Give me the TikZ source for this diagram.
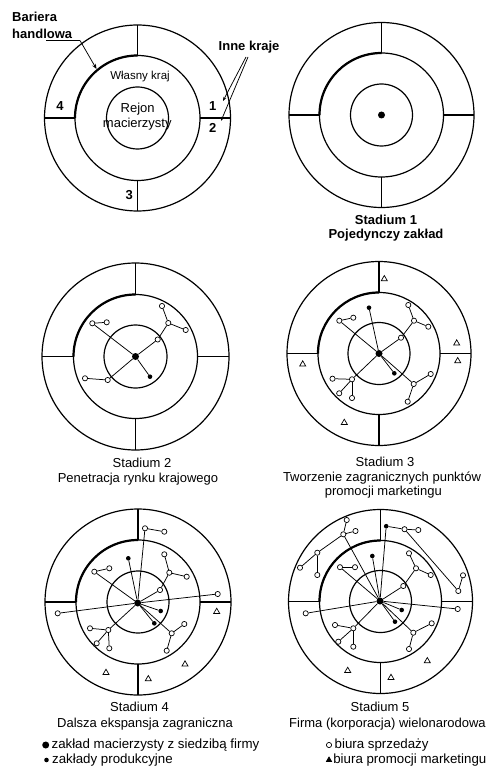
\documentclass[tikz,border=0pt]{standalone}
\usepackage{fontspec}
\setmainfont{Liberation Sans}
\usepackage{tikz}
\usetikzlibrary{arrows.meta, positioning, calc, shapes.geometric}

\tikzset{
  ring/.style={line width=1.2pt},
  barrier/.style={line width=2.2pt},
  link/.style={line width=0.75pt},
  home/.style={circle, fill, inner sep=0pt, minimum size=7pt},
  plant/.style={circle, fill, inner sep=0pt, minimum size=4.6pt},
  office/.style={circle, draw, fill=white, line width=0.7pt, inner sep=0pt, minimum size=5.2pt},
  promo/.style={regular polygon, regular polygon sides=3, draw, line width=0.7pt, inner sep=0pt, minimum size=7pt},
  capt/.style={font=\fontsize{13}{15}\selectfont, anchor=base, inner sep=1pt},
  bcapt/.style={capt, font=\fontsize{13}{15}\selectfont\bfseries},
  keytext/.style={capt, font=\fontsize{13.3}{15}\selectfont},
}

\begin{document}
\begin{tikzpicture}[x=1pt, y=-1pt]
			\useasboundingbox (0,0) rectangle (485,767);
			% centres of the six pictures
			\coordinate (o1) at (137.5,118);
			\coordinate (o2) at (381.5,115);
			\coordinate (o3) at (135.5,356.5);
			\coordinate (o4) at (379,353.5);
			\coordinate (o5) at (138,602);
			\coordinate (o6) at (380.5,601.5);
			% rings
			\draw[ring] (o1) circle (93pt) (o1) circle (62.5pt) (o1) circle (31pt);
			\draw[ring] (o1) ++(0:62.5pt) -- ++(0:30.5pt) (o1) ++(90:62.5pt) -- ++(90:30.5pt)
				(o1) ++(180:62.5pt) -- ++(180:30.5pt) (o1) ++(270:62.5pt) -- ++(270:30.5pt);
			\draw[barrier] (o1) ++(90:62.5pt) arc (90:180:62.5pt);
			\draw[ring] (o2) circle (92.5pt) (o2) circle (62pt) (o2) circle (31pt);
			\draw[ring] (o2) ++(0:62pt) -- ++(0:30.5pt) (o2) ++(90:62pt) -- ++(90:30.5pt)
				(o2) ++(180:62pt) -- ++(180:30.5pt) (o2) ++(270:62pt) -- ++(270:30.5pt);
			\draw[barrier] (o2) ++(90:62pt) arc (90:180:62pt);
			\draw[ring] (o3) circle (93.5pt) (o3) circle (62pt) (o3) circle (31.5pt);
			\draw[ring] (o3) ++(0:62pt) -- ++(0:31.5pt) (o3) ++(90:62pt) -- ++(90:31.5pt)
				(o3) ++(180:62pt) -- ++(180:31.5pt) (o3) ++(270:62pt) -- ++(270:31.5pt);
			\draw[barrier] (o3) ++(90:62pt) arc (90:180:62pt);
			\draw[ring] (o4) circle (92pt) (o4) circle (61pt) (o4) circle (31pt);
			\draw[ring] (o4) ++(0:61pt) -- ++(0:31pt) (o4) ++(90:61pt) -- ++(90:31pt)
				(o4) ++(180:61pt) -- ++(180:31pt) (o4) ++(270:61pt) -- ++(270:31pt);
			\draw[barrier] (o4) ++(90:61pt) arc (90:180:61pt);
			\draw[ring] (o5) circle (93pt) (o5) circle (62pt) (o5) circle (31pt);
			\draw[ring] (o5) ++(0:62pt) -- ++(0:31pt) (o5) ++(90:62pt) -- ++(90:31pt)
				(o5) ++(180:62pt) -- ++(180:31pt) (o5) ++(270:62pt) -- ++(270:31pt);
			\draw[barrier] (o5) ++(90:62pt) arc (90:180:62pt);
			\draw[ring] (o6) circle (92pt) (o6) circle (61pt) (o6) circle (31pt);
			\draw[ring] (o6) ++(0:61pt) -- ++(0:31pt) (o6) ++(90:61pt) -- ++(90:31pt)
				(o6) ++(180:61pt) -- ++(180:31pt) (o6) ++(270:61pt) -- ++(270:31pt);
			\draw[barrier] (o6) ++(90:61pt) arc (90:180:61pt);

			% picture 0: the key
			\node[bcapt, anchor=base west] (ba) at (11,21.7) {Bariera};
			\node[bcapt, anchor=base west] (bh) at (11,38.3) {handlowa};
			\node[bcapt, anchor=base west] (ik) at (217.5,50.7) {Inne kraje};
			\node[capt, font=\fontsize{11.5}{13}\selectfont] (wk) at (140,80) {Własny kraj};
			\node[capt] (rj) at (137.7,112.7) {Rejon};
			\node[capt] (rm) at (137.3,127.3) {macierzysty};
			\node[bcapt] (n1) at (212.7,111) {1};
			\node[bcapt] (n2) at (212.7,132.7) {2};
			\node[bcapt] (n3) at (129.3,200) {3};
			\node[bcapt] (n4) at (60,111) {4};
			\coordinate (ul) at (46,40.5);
			\coordinate (ur) at (80,40.5);
			\coordinate (bar) at (96.5,69);
			\draw[link] (ul) -- (ur);
			\draw[link, -{Stealth[length=5pt,width=4pt]}] (ur) -- (bar);
			\coordinate (ia) at (246,57);
			\coordinate (ib) at (248,57);
			\coordinate (k1) at (223,101);
			\coordinate (k2) at (221,121);
			\draw[link, -{Stealth[length=4pt,width=3pt]}] (ia) -- (k1);
			\draw[link, -{Stealth[length=4pt,width=3pt]}] (ib) -- (k2);

			% stadium 1
			\node[home] (h2) at (o2) {};
			\node[bcapt] (s1) at (386,225) {Stadium 1};
			\node[bcapt] (s1b) at (386,238.5) {Pojedynczy zakład};

			% stadium 2
			\node[home] (h3) at (o3) {};
			\node[plant] (p3a) at (150,376.7) {};
			\node[office] (b3a) at (92.3,323.3) {};
			\node[office] (b3b) at (106.7,322.3) {};
			\node[office] (b3c) at (107.7,380) {};
			\node[office] (b3d) at (85,378.3) {};
			\node[office] (b3e) at (157.7,339.5) {};
			\node[office] (b3f) at (168.3,323) {};
			\node[office] (b3g) at (162,306) {};
			\node[office] (b3h) at (185.7,330) {};
			\draw[link] (h3) -- (p3a);
			\draw[link] (h3) -- (b3a);
			\draw[link] (b3a) -- (b3b);
			\draw[link] (h3) -- (b3c);
			\draw[link] (b3c) -- (b3d);
			\draw[link] (h3) -- (b3e);
			\draw[link] (b3e) -- (b3f);
			\draw[link] (b3f) -- (b3g);
			\draw[link] (b3f) -- (b3h);
			\node[capt] (s2) at (142,467.3) {Stadium 2};
			\node[capt] (s2b) at (138,482.7) {Penetracja rynku krajowego};

			% stadium 3
			\node[home] (h4) at (o4) {};
			\node[plant] (p4a) at (369,307.7) {};
			\node[plant] (p4b) at (394.3,373.3) {};
			\node[office] (b4a) at (339.3,320.7) {};
			\node[office] (b4b) at (353.3,317.7) {};
			\node[office] (b4c) at (401,337.7) {};
			\node[office] (b4d) at (414,320.7) {};
			\node[office] (b4e) at (408.3,305) {};
			\node[office] (b4f) at (428.3,326.7) {};
			\node[office] (b4g) at (352,379.3) {};
			\node[office] (b4h) at (332.5,378.7) {};
			\node[office] (b4i) at (339.2,393.3) {};
			\node[office] (b4j) at (352,398) {};
			\node[office] (b4k) at (413.7,384) {};
			\node[office] (b4l) at (430.7,374) {};
			\node[office] (b4m) at (407.7,401.7) {};
			\node[promo] (t4a) at (384.3,279) {};
			\node[promo] (t4b) at (456.7,343.3) {};
			\node[promo] (t4c) at (457.7,361) {};
			\node[promo] (t4d) at (302.7,364.3) {};
			\node[promo] (t4e) at (344.3,422.7) {};
			\draw[link] (h4) -- (p4a);
			\draw[link] (h4) -- (p4b);
			\draw[link] (h4) -- (b4a);
			\draw[link] (b4a) -- (b4b);
			\draw[link] (h4) -- (b4c);
			\draw[link] (b4c) -- (b4d);
			\draw[link] (b4d) -- (b4e);
			\draw[link] (b4d) -- (b4f);
			\draw[link] (h4) -- (b4g);
			\draw[link] (b4g) -- (b4h);
			\draw[link] (b4g) -- (b4i);
			\draw[link] (b4g) -- (b4j);
			\draw[link] (h4) -- (b4k);
			\draw[link] (b4k) -- (b4l);
			\draw[link] (b4k) -- (b4m);
			\node[capt] (s3) at (385,466.7) {Stadium 3};
			\node[capt] (s3b) at (382,481.7) {Tworzenie zagranicznych punktów};
			\node[capt] (s3c) at (383.3,495.5) {promocji marketingu};

			% stadium 4
			\node[home] (h5) at (137.7,603) {};
			\node[plant] (p5a) at (128.3,558.3) {};
			\node[plant] (p5b) at (160.7,611) {};
			\node[plant] (p5c) at (154.3,623.3) {};
			\node[office] (b5a) at (145,528.3) {};
			\node[office] (b5b) at (164.3,531.7) {};
			\node[office] (b5c) at (217.7,594) {};
			\node[office] (b5d) at (57.7,613.3) {};
			\node[office] (b5e) at (94.3,571.7) {};
			\node[office] (b5f) at (109.3,568.3) {};
			\node[office] (b5g) at (160,590) {};
			\node[office] (b5h) at (169.3,572.7) {};
			\node[office] (b5i) at (164.3,554.3) {};
			\node[office] (b5j) at (186.7,576.7) {};
			\node[office] (b5k) at (108.3,630) {};
			\node[office] (b5l) at (90,628.3) {};
			\node[office] (b5m) at (96.7,643.3) {};
			\node[office] (b5n) at (109.3,648.3) {};
			\node[office] (b5o) at (171.7,633.3) {};
			\node[office] (b5p) at (184.3,624) {};
			\node[office] (b5q) at (166.7,650.7) {};
			\node[promo] (t5a) at (216.7,611.7) {};
			\node[promo] (t5b) at (185,664.3) {};
			\node[promo] (t5c) at (106,672.7) {};
			\node[promo] (t5d) at (148.3,679) {};
			\draw[link] (h5) -- (p5a);
			\draw[link] (h5) -- (p5b);
			\draw[link] (h5) -- (p5c);
			\draw[link] (h5) -- (b5a);
			\draw[link] (b5a) -- (b5b);
			\draw[link] (h5) -- (b5c);
			\draw[link] (h5) -- (b5d);
			\draw[link] (h5) -- (b5e);
			\draw[link] (b5e) -- (b5f);
			\draw[link] (h5) -- (b5g);
			\draw[link] (b5g) -- (b5h);
			\draw[link] (b5h) -- (b5i);
			\draw[link] (b5h) -- (b5j);
			\draw[link] (h5) -- (b5k);
			\draw[link] (b5k) -- (b5l);
			\draw[link] (b5k) -- (b5m);
			\draw[link] (b5k) -- (b5n);
			\draw[link] (h5) -- (b5o);
			\draw[link] (b5o) -- (b5p);
			\draw[link] (b5o) -- (b5q);
			\node[capt] (s4) at (139.5,711.5) {Stadium 4};
			\node[capt] (s4b) at (145,727.5) {Dalsza ekspansja zagraniczna};

			% stadium 5
			\node[home] (h6) at (380,601) {};
			\node[plant] (p6a) at (372.3,556) {};
			\node[plant] (p6b) at (401.7,610) {};
			\node[plant] (p6c) at (395,621.7) {};
			\node[plant] (p6d) at (386.2,526.2) {};
			\node[office] (b6a) at (404.5,529.2) {};
			\node[office] (b6b) at (418.3,530) {};
			\node[office] (b6c) at (458.3,591) {};
			\node[office] (b6d) at (463,575.3) {};
			\node[office] (b6e) at (343.3,534.3) {};
			\node[office] (b6f) at (346.7,520) {};
			\node[office] (b6g) at (355.5,531) {};
			\node[office] (b6h) at (317.3,552.7) {};
			\node[office] (b6i) at (300,567.7) {};
			\node[office] (b6j) at (317.3,575) {};
			\node[office] (b6k) at (340,567.2) {};
			\node[office] (b6l) at (355,567.2) {};
			\node[office] (b6m) at (457.7,609) {};
			\node[office] (b6n) at (305.7,613.3) {};
			\node[office] (b6o) at (403.3,586) {};
			\node[office] (b6p) at (416,568.3) {};
			\node[office] (b6q) at (409,553.3) {};
			\node[office] (b6r) at (430.7,575) {};
			\node[office] (b6s) at (353.3,628.3) {};
			\node[office] (b6t) at (335,625) {};
			\node[office] (b6u) at (338.3,641.7) {};
			\node[office] (b6v) at (353.3,646.7) {};
			\node[office] (b6w) at (413.3,632.7) {};
			\node[office] (b6x) at (431.7,623.3) {};
			\node[office] (b6y) at (409,649) {};
			\node[promo] (t6a) at (427.3,661) {};
			\node[promo] (t6b) at (347.7,670.7) {};
			\node[promo] (t6c) at (391,677.7) {};
			\draw[link] (h6) -- (p6a);
			\draw[link] (h6) -- (p6b);
			\draw[link] (h6) -- (p6c);
			\draw[link] (h6) -- (p6d);
			\draw[link] (p6d) -- (b6a);
			\draw[link] (b6a) -- (b6b);
			\draw[link] (b6a) -- (b6c);
			\draw[link] (b6c) -- (b6d);
			\draw[link] (h6) -- (b6e);
			\draw[link] (b6e) -- (b6f);
			\draw[link] (b6e) -- (b6g);
			\draw[link] (b6e) -- (b6h);
			\draw[link] (b6h) -- (b6i);
			\draw[link] (b6h) -- (b6j);
			\draw[link] (h6) -- (b6k);
			\draw[link] (b6k) -- (b6l);
			\draw[link] (h6) -- (b6m);
			\draw[link] (h6) -- (b6n);
			\draw[link] (h6) -- (b6o);
			\draw[link] (b6o) -- (b6p);
			\draw[link] (b6p) -- (b6q);
			\draw[link] (b6p) -- (b6r);
			\draw[link] (h6) -- (b6s);
			\draw[link] (b6s) -- (b6t);
			\draw[link] (b6s) -- (b6u);
			\draw[link] (b6s) -- (b6v);
			\draw[link] (h6) -- (b6w);
			\draw[link] (b6w) -- (b6x);
			\draw[link] (b6w) -- (b6y);
			\node[capt] (s5) at (380,711.5) {Stadium 5};
			\node[capt] (s5b) at (387.5,727.5) {Firma (korporacja) wielonarodowa};

			% legend
			\node[home] (lk1) at (45.7,745) {};
			\node[plant] (lk2) at (46.5,760) {};
			\node[office] (lk3) at (329,745) {};
			\node[promo, fill, minimum size=6pt] (lk4) at (329,760) {};
			\node[keytext, right=1pt of lk1] (lt1) {zakład macierzysty z siedzibą firmy};
			\node[keytext, right=2pt of lk2] (lt2) {zakłady produkcyjne};
			\node[keytext, right=1.5pt of lk3] (lt3) {biura sprzedaży};
			\node[keytext, right=1pt of lk4] (lt4) {biura promocji marketingu};
		\end{tikzpicture}
\end{document}
